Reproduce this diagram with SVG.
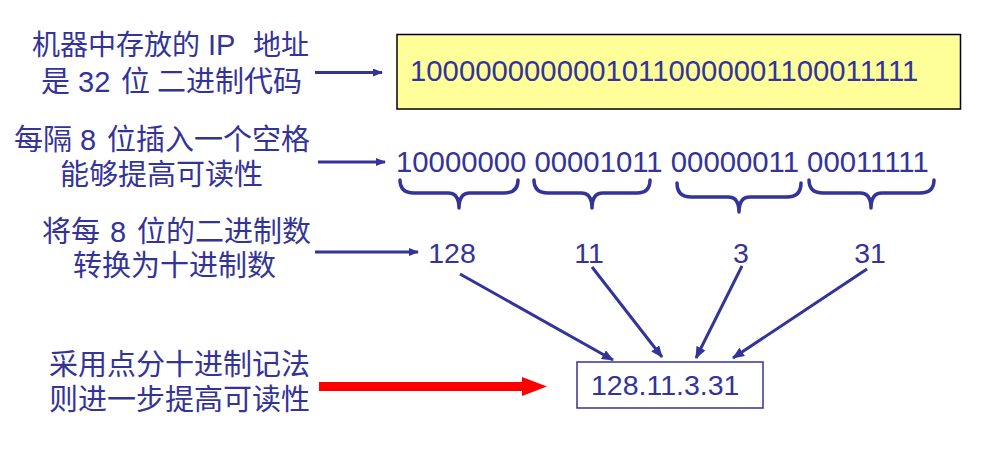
<svg xmlns="http://www.w3.org/2000/svg" width="981" height="471" viewBox="0 0 981 471">
<style>
.t{font-family:"Liberation Sans","Noto Sans CJK SC",sans-serif;font-size:29.3px;fill:#333399}
.c{font-family:"Liberation Sans","Noto Sans CJK SC",sans-serif;font-size:29px;fill:#333399}
.n{font-family:"Liberation Sans","Noto Sans CJK SC",sans-serif;font-size:28.5px;fill:#333399}
.ln{stroke:#333399;stroke-width:3;fill:none}
.br{stroke:#333399;stroke-width:3.5;fill:none;stroke-linecap:round;stroke-linejoin:round}
</style>
<defs>
<marker id="ah" viewBox="0 0 10 8" refX="9" refY="4" markerWidth="10" markerHeight="8" markerUnits="userSpaceOnUse" orient="auto">
<path d="M0,0 L10,4 L0,8 Z" fill="#333399"/>
</marker>
<marker id="ah2" viewBox="0 0 12 10" refX="11" refY="5" markerWidth="12" markerHeight="10" markerUnits="userSpaceOnUse" orient="auto">
<path d="M0,0 L12,5 L0,10 Z" fill="#333399"/>
</marker>
</defs>
<rect width="981" height="471" fill="#ffffff"/>

<g id="label1">
<text class="c" y="55" style="font-size:28px"><tspan x="32">机器中存放的</tspan><tspan x="208" style="font-size:29px">IP</tspan><tspan x="253">地址</tspan></text>
<text class="c" y="92"><tspan x="41">是</tspan><tspan x="78">32</tspan><tspan x="121">位</tspan><tspan x="157">二进制代码</tspan></text>
</g>
<g id="label2">
<text class="c" y="150"><tspan x="14">每隔</tspan><tspan x="80">8</tspan><tspan x="107">位插入一个空格</tspan></text>
<text class="c" y="185"><tspan x="60">能够提高可读性</tspan></text>
</g>
<g id="label3">
<text class="c" y="242"><tspan x="42">将每</tspan><tspan x="110">8</tspan><tspan x="137">位的二进制数</tspan></text>
<text class="c" y="276"><tspan x="73">转换为十进制数</tspan></text>
</g>
<g id="label4">
<text class="c" y="375"><tspan x="49">采用点分十进制记法</tspan></text>
<text class="c" y="410"><tspan x="49">则进一步提高可读性</tspan></text>
</g>

<g id="binary32">
<rect x="397" y="34.5" width="563.5" height="74.5" fill="#ffff99" stroke="#000000" stroke-width="1.5"/>
<text class="t" x="410" y="81">10000000000010110000001100011111</text>
</g>

<g id="binarySpaced">
<text class="t" x="396" y="172" xml:space="preserve">10000000 00001011 00000011 00011111</text>
</g>

<g id="braces">
<path class="br" d="M400,180 Q400,193 414,193 L448,193 Q459,193 459,208 Q459,193 470,193 L504,193 Q518,193 518,180"/>
<path class="br" d="M534,180 Q534,193 548,193 L581,193 Q592,193 592,208 Q592,193 603,193 L637,193 Q650,193 650,180"/>
<path class="br" d="M677,183 Q677,197 691,197 L728,197 Q739,197 739,212 Q739,197 750,197 L787,197 Q801,197 801,183"/>
<path class="br" d="M809,180 Q809,193 823,193 L860,193 Q871,193 871,208 Q871,193 882,193 L920,193 Q934,193 934,180"/>
</g>

<g id="decimals">
<text class="n" x="452" y="263" text-anchor="middle">128</text>
<text class="n" x="589" y="263" text-anchor="middle">11</text>
<text class="n" x="741" y="263" text-anchor="middle">3</text>
<text class="n" x="870" y="263" text-anchor="middle">31</text>
</g>

<g id="dotted">
<rect x="577" y="362" width="186" height="46" fill="#ffffff" stroke="#333399" stroke-width="1.5"/>
<text class="n" x="591" y="395">128.11.3.31</text>
</g>

<g id="connectors">
<line class="ln" x1="315" y1="72.5" x2="382" y2="72.5" marker-end="url(#ah)"/>
<line class="ln" x1="318" y1="162" x2="385" y2="162" marker-end="url(#ah)"/>
<line class="ln" x1="315" y1="252" x2="418" y2="252" marker-end="url(#ah)"/>
<line class="ln" x1="460" y1="274" x2="613" y2="360" marker-end="url(#ah2)"/>
<line class="ln" x1="592" y1="267" x2="662" y2="357" marker-end="url(#ah2)"/>
<line class="ln" x1="742" y1="266" x2="696" y2="358" marker-end="url(#ah2)"/>
<line class="ln" x1="867" y1="269" x2="733" y2="358" marker-end="url(#ah2)"/>
<polygon points="319,382 522,382 522,377 547,386.5 522,396 522,391 319,391" fill="#ff0000"/>
</g>
</svg>
